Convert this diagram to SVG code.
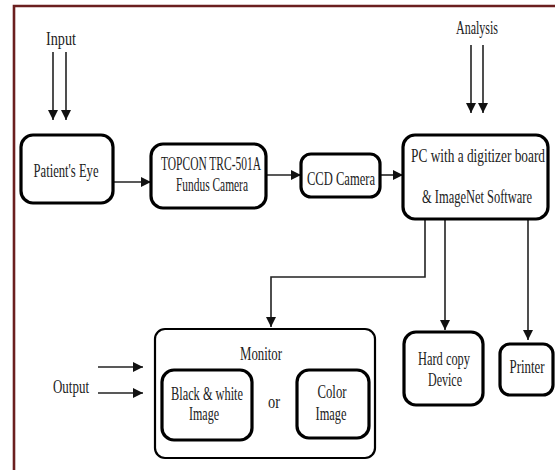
<svg xmlns="http://www.w3.org/2000/svg" width="555" height="470" viewBox="0 0 555 470" font-family="'Liberation Serif', 'DejaVu Serif', serif">
<defs>
<marker id="ah" viewBox="0 0 10 10" refX="10" refY="5" markerWidth="10" markerHeight="10" markerUnits="userSpaceOnUse" orient="auto">
<path d="M0,0 L10,5 L0,10 z" fill="#111"/>
</marker>
</defs>
<style>
text{font-family:'Liberation Serif',serif;font-size:13.5px;fill:#222;text-anchor:middle}
.box{fill:#fff;stroke:#000;stroke-width:3.2}
.mon{fill:#fff;stroke:#000;stroke-width:2.2}
.ca{fill:none;stroke:#222;stroke-width:1.6;marker-end:url(#ah)}
</style>
<rect width="555" height="470" fill="#fff"/>
<path d="M14,470 L14,6 L555,6" fill="none" stroke="#6b1f1f" stroke-width="2.6"/>

<g id="connectors">
<line class="ca" x1="53" y1="52" x2="53" y2="120"/>
<line class="ca" x1="66" y1="52" x2="66" y2="120"/>
<line class="ca" x1="471" y1="45" x2="471" y2="113"/>
<line class="ca" x1="483" y1="45" x2="483" y2="113"/>
<line class="ca" x1="113" y1="182" x2="151" y2="182"/>
<line class="ca" x1="266" y1="175" x2="301" y2="175"/>
<line class="ca" x1="380" y1="175" x2="403" y2="175"/>
<polyline class="ca" points="425,219 425,277 271,277 271,327"/>
<line class="ca" x1="445" y1="219" x2="445" y2="330"/>
<line class="ca" x1="528" y1="219" x2="528" y2="340"/>
<line class="ca" x1="98" y1="367" x2="143" y2="367"/>
<line class="ca" x1="98" y1="393" x2="143" y2="393"/>
</g>

<g id="input"><text transform="translate(61,45) scale(1,1.35)" textLength="30" lengthAdjust="spacingAndGlyphs">Input</text></g>
<g id="analysis"><text transform="translate(477,34) scale(1,1.35)" textLength="42" lengthAdjust="spacingAndGlyphs">Analysis</text></g>
<g id="output"><text transform="translate(71,393) scale(1,1.35)" textLength="36" lengthAdjust="spacingAndGlyphs">Output</text></g>

<g id="patient-eye">
<rect class="box" x="21" y="135" width="92" height="68" rx="12"/>
<text transform="translate(66,177) scale(1,1.35)" textLength="65" lengthAdjust="spacingAndGlyphs">Patient's Eye</text>
</g>
<g id="topcon">
<rect class="box" x="151" y="144" width="115" height="64" rx="12"/>
<text transform="translate(211,170) scale(1,1.35)" textLength="100" lengthAdjust="spacingAndGlyphs">TOPCON TRC-501A</text>
<text transform="translate(212,191) scale(1,1.35)" textLength="72" lengthAdjust="spacingAndGlyphs">Fundus Camera</text>
</g>
<g id="ccd">
<rect class="box" x="301" y="154" width="79" height="43" rx="10"/>
<text transform="translate(341,185) scale(1,1.35)" textLength="68" lengthAdjust="spacingAndGlyphs">CCD Camera</text>
</g>
<g id="pc">
<rect class="box" x="403" y="135" width="145" height="84" rx="12"/>
<text transform="translate(478,162) scale(1,1.35)" textLength="134" lengthAdjust="spacingAndGlyphs">PC with a digitizer board</text>
<text transform="translate(477,203) scale(1,1.35)" textLength="110" lengthAdjust="spacingAndGlyphs">&amp; ImageNet Software</text>
</g>
<g id="monitor">
<rect class="mon" x="155" y="329" width="220" height="129" rx="10"/>
<text transform="translate(261,360) scale(1,1.35)" textLength="42" lengthAdjust="spacingAndGlyphs">Monitor</text>
<text transform="translate(274,408) scale(1,1.35)" textLength="12" lengthAdjust="spacingAndGlyphs">or</text>
</g>
<g id="bw-image">
<rect class="box" x="162" y="370" width="90" height="70" rx="12"/>
<text transform="translate(207,400) scale(1,1.35)" textLength="72" lengthAdjust="spacingAndGlyphs">Black &amp; white</text>
<text transform="translate(204,420) scale(1,1.35)" textLength="30" lengthAdjust="spacingAndGlyphs">Image</text>
</g>
<g id="color-image">
<rect class="box" x="297" y="370" width="72" height="68" rx="12"/>
<text transform="translate(332,398) scale(1,1.35)" textLength="29" lengthAdjust="spacingAndGlyphs">Color</text>
<text transform="translate(331,420) scale(1,1.35)" textLength="31" lengthAdjust="spacingAndGlyphs">Image</text>
</g>
<g id="hardcopy">
<rect class="box" x="404" y="332" width="79" height="73" rx="12"/>
<text transform="translate(444,365) scale(1,1.35)" textLength="52" lengthAdjust="spacingAndGlyphs">Hard copy</text>
<text transform="translate(445,386) scale(1,1.35)" textLength="34" lengthAdjust="spacingAndGlyphs">Device</text>
</g>
<g id="printer">
<rect class="box" x="500" y="344" width="53" height="51" rx="10"/>
<text transform="translate(527,373) scale(1,1.35)" textLength="35" lengthAdjust="spacingAndGlyphs">Printer</text>
</g>
</svg>
